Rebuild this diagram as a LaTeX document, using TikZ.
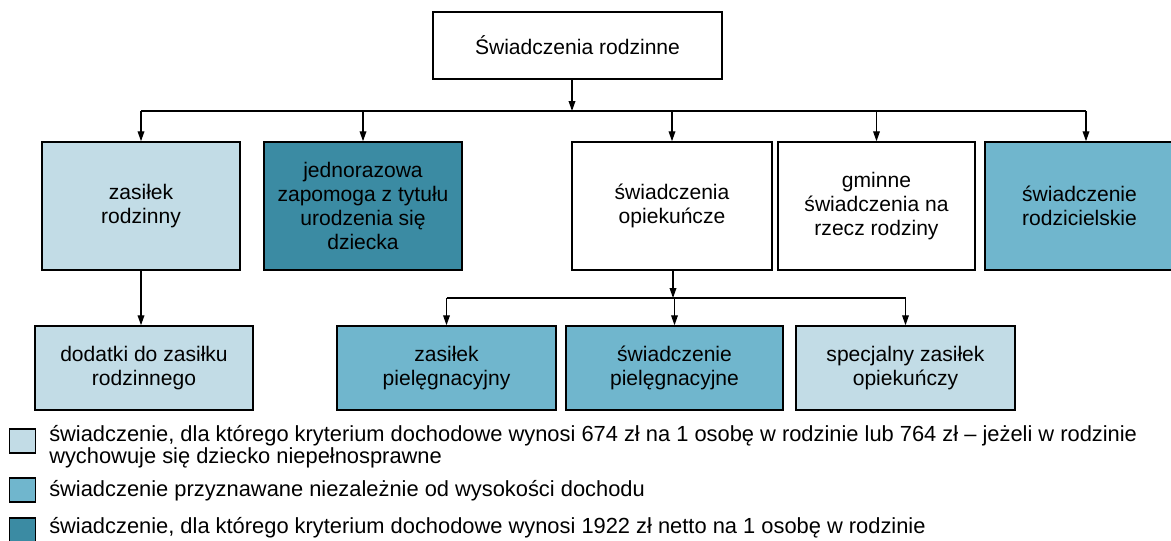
\documentclass[tikz,border=0pt]{standalone}
\usepackage{fontspec}
\setmainfont{Liberation Sans}
\usetikzlibrary{arrows.meta}
\definecolor{clair}{HTML}{C2DCE6}
\definecolor{moyen}{HTML}{70B6CD}
\definecolor{fonce}{HTML}{3B8BA3}

\begin{document}
\begin{tikzpicture}[x=0.75pt,y=-0.75pt,
  boite/.style 2 args={draw, line width=1.1pt, align=center, inner sep=0pt,
    minimum width=#1*0.75pt, minimum height=#2*0.75pt,
    font=\fontsize{15.8}{18}\selectfont},
  fleche/.style={-{Triangle[length=7.5pt,width=5pt]}, line width=1pt},
  carre/.style={draw, line width=0.8pt, inner sep=0pt,
    minimum width=20pt, minimum height=18pt},
  legende/.style={anchor=base west, align=left, inner sep=0pt,
    font=\fontsize{16.4}{16.5}\selectfont}]
\useasboundingbox (0,0) rectangle (1171,540);
%niveau 0
\node[boite={289}{67}] (haut) at (577.5,45.5) {Świadczenia rodzinne};
%niveau 1
\node[boite={198}{128}, fill=clair] (z1) at (141,206) {zasiłek\\rodzinny};
\node[boite={198}{128}, fill=fonce] (z2) at (363,206) {jednorazowa\\zapomoga z tytułu\\urodzenia się\\dziecka};
\node[boite={200}{128}] (z3) at (672,206) {świadczenia\\opiekuńcze};
\node[boite={197}{128}] (z4) at (876.5,206) {gminne\\świadczenia na\\rzecz rodziny};
\node[boite={189}{128}, fill=moyen] (z5) at (1079.5,206) {świadczenie\\rodzicielskie};
%niveau 2
\node[boite={218}{84}, fill=clair] (d1) at (144,368) {dodatki do zasiłku\\rodzinnego};
\node[boite={219}{84}, fill=moyen] (d2) at (446.5,368) {zasiłek\\pielęgnacyjny};
\node[boite={217}{84}, fill=moyen] (d3) at (674.5,368) {świadczenie\\pielęgnacyjne};
\node[boite={219}{84}, fill=clair] (d4) at (905.5,368) {specjalny zasiłek\\opiekuńczy};
%connexions
\coordinate (b1) at (572,111);
\coordinate (r5) at (1086,111);
\coordinate (b2) at (673,298);
\draw[fleche] (haut.south -| b1) -- (b1);
\draw[line width=1pt] (z1.north |- b1) -- (r5);
\foreach \n in {z1,z2,z3,z4}
  \draw[fleche] (\n.north |- b1) -- (\n.north);
\draw[fleche] (r5) -- (r5 |- z5.north);
\draw[fleche] (z1.south) -- (z1.south |- d1.north);
\draw[fleche] (z3.south -| b2) -- (b2);
\draw[line width=1pt] (d2.north |- b2) -- (d4.north |- b2);
\foreach \n in {d2,d3,d4}
  \draw[fleche] (\n.north |- b2) -- (\n.north);
%legende
\node[carre, fill=clair] (c1) at (22.5,441) {};
\node[carre, fill=moyen] (c2) at (22.5,490) {};
\node[carre, fill=fonce] (c3) at (22.5,530) {};
\node[legende] (t1) at (49,463) {świadczenie, dla którego kryterium dochodowe wynosi 674 zł na 1 osobę w rodzinie lub 764 zł – jeżeli w rodzinie\\wychowuje się dziecko niepełnosprawne};
\node[legende] (t2) at (49,496) {świadczenie przyznawane niezależnie od wysokości dochodu};
\node[legende] (t3) at (49,533) {świadczenie, dla którego kryterium dochodowe wynosi 1922 zł netto na 1 osobę w rodzinie};
%fin
\end{tikzpicture}
\end{document}
